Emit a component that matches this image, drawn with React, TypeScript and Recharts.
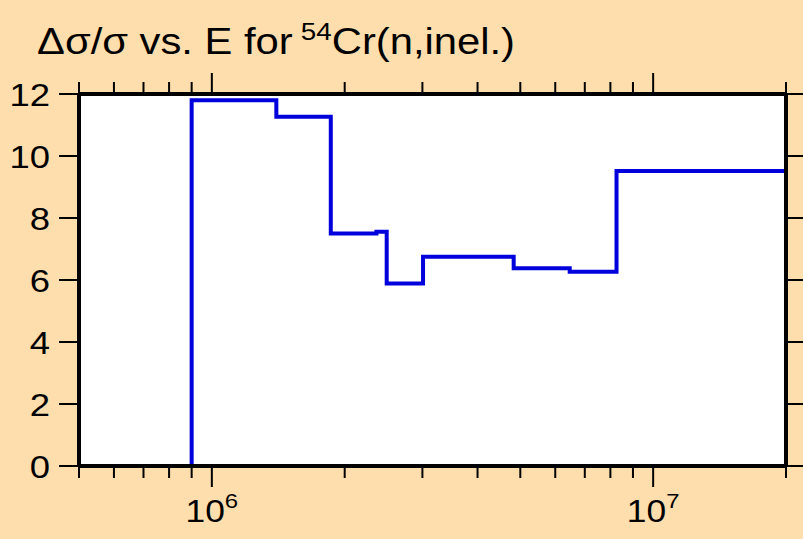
import { LineChart, Line, XAxis, YAxis, CartesianGrid } from "recharts";

// group boundaries (eV) and relative uncertainty (%) in each group
const edges = [9.0e5, 1.4e6, 1.86e6, 2.36e6, 2.49e6, 3.01e6, 4.83e6, 6.47e6, 8.26e6, 2.0e7];
const values = [11.8, 11.27, 7.5, 7.56, 5.89, 6.75, 6.38, 6.27, 9.52];

const xTicks = [
  5e5, 6e5, 7e5, 8e5, 9e5, 1e6, 2e6, 3e6, 4e6, 5e6, 6e6, 7e6, 8e6, 9e6, 1e7, 2e7,
];
const majorX = [1e6, 1e7];
const majorXLabels = ["6", "7"];
const yTicks = [0, 2, 4, 6, 8, 10, 12];

const FONT = "'Liberation Sans', Arial, sans-serif";
const SX = 1.14; // the original text is a little wider than Arial

// step histogram: rises from 0 at the first edge, back to 0 at the last
const data = [
  { e: edges[0], v: 0 },
  ...values.map((v, i) => ({ e: edges[i], v })),
  { e: edges[edges.length - 1], v: values[values.length - 1] },
  { e: edges[edges.length - 1], v: 0 },
];

const BottomTick = (props: any) => {
  const { x, y, payload } = props;
  const idx = majorX.indexOf(payload.value);
  const major = idx >= 0;
  return (
    <g>
      <line x1={x} x2={x} y1={y} y2={y + (major ? 21 : 12)} stroke="#000" strokeWidth={2} />
      {major && (
        <text
          transform={`translate(${x},${y + 56}) scale(${SX},1)`}
          textAnchor="middle"
          fontFamily={FONT}
          fontSize={31}
          fill="#000"
        >
          10
          <tspan dy={-14} fontSize={21}>
            {majorXLabels[idx]}
          </tspan>
        </text>
      )}
    </g>
  );
};

const TopTick = (props: any) => {
  const { x, y, payload } = props;
  const major = majorX.includes(payload.value);
  return <line x1={x} x2={x} y1={y} y2={y - (major ? 21 : 12)} stroke="#000" strokeWidth={2} />;
};

const LeftTick = (props: any) => {
  const { x, y, payload } = props;
  return (
    <g>
      <line x1={x - 20} x2={x} y1={y} y2={y} stroke="#000" strokeWidth={2} />
      <text
        transform={`translate(${x - 29},${y + 12}) scale(${SX},1)`}
        textAnchor="end"
        fontFamily={FONT}
        fontSize={32}
        fill="#000"
      >
        {payload.value}
      </text>
    </g>
  );
};

const RightTick = (props: any) => {
  const { x, y } = props;
  return <line x1={x} x2={x + 20} y1={y} y2={y} stroke="#000" strokeWidth={2} />;
};

const frame = { stroke: "#000", strokeWidth: 4 };

export default function App() {
  return (
    <div
      style={{
        position: "absolute",
        left: 0,
        top: 0,
        width: 803,
        height: 539,
        background: "#FFDEAD",
      }}
    >
      <LineChart width={803} height={539} data={data} margin={{ top: 0, right: 0, bottom: 0, left: 0 }}>
        <CartesianGrid xAxisId="bottom" yAxisId="left" horizontal={false} vertical={false} fill="#fff" />
        <XAxis
          xAxisId="bottom"
          dataKey="e"
          type="number"
          scale="log"
          domain={[5e5, 2e7]}
          allowDataOverflow
          ticks={xTicks}
          interval={0}
          height={73}
          tickSize={0}
          tickMargin={0}
          tickLine={false}
          axisLine={frame}
          tick={<BottomTick />}
        />
        <XAxis
          xAxisId="top"
          orientation="top"
          dataKey="e"
          type="number"
          scale="log"
          domain={[5e5, 2e7]}
          allowDataOverflow
          ticks={xTicks}
          interval={0}
          height={94}
          tickSize={0}
          tickMargin={0}
          tickLine={false}
          axisLine={frame}
          tick={<TopTick />}
        />
        <YAxis
          yAxisId="left"
          type="number"
          domain={[0, 12]}
          allowDataOverflow
          ticks={yTicks}
          interval={0}
          width={79}
          tickSize={0}
          tickMargin={0}
          tickLine={false}
          axisLine={frame}
          tick={<LeftTick />}
        />
        <YAxis
          yAxisId="right"
          orientation="right"
          type="number"
          domain={[0, 12]}
          allowDataOverflow
          ticks={yTicks}
          interval={0}
          width={17}
          tickSize={0}
          tickMargin={0}
          tickLine={false}
          axisLine={frame}
          tick={<RightTick />}
        />
        <Line
          xAxisId="bottom"
          yAxisId="left"
          dataKey="v"
          type="stepAfter"
          stroke="#0000DD"
          strokeWidth={4}
          dot={false}
          activeDot={false}
          isAnimationActive={false}
        />
      </LineChart>
      <svg
        width={803}
        height={539}
        style={{ position: "absolute", left: 0, top: 0, pointerEvents: "none" }}
      >
        <text
          transform={`translate(37,54) scale(1.16,1)`}
          fontFamily={FONT}
          fontSize={36}
          fill="#000"
        >
          Δσ/σ vs. E for
          <tspan dx={7} dy={-14} fontSize={24}>
            54
          </tspan>
          <tspan dy={14}>Cr(n,inel.)</tspan>
        </text>
      </svg>
    </div>
  );
}
